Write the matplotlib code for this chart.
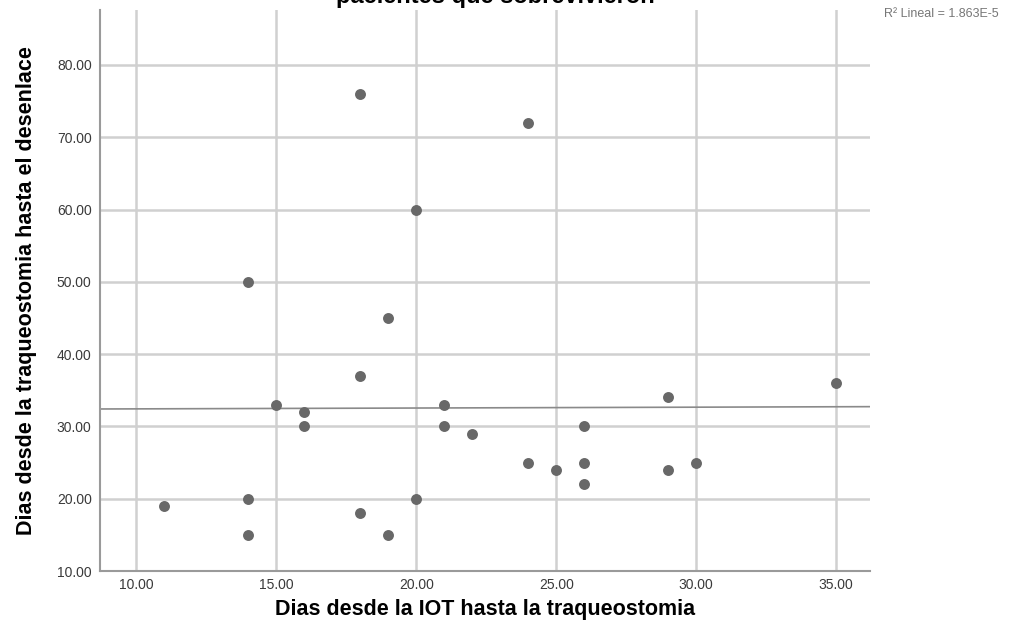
import matplotlib
matplotlib.use('Agg')
import matplotlib.pyplot as plt
import numpy as np

# data
iot_days = [11, 14, 14, 14, 15, 16, 16, 18, 18, 18, 19, 19, 20, 20, 21, 21, 22,
            24, 24, 25, 26, 26, 26, 29, 29, 30, 35]
outcome_days = [19, 50, 20, 15, 33, 32, 30, 76, 37, 18, 45, 15, 60, 20, 33, 30, 29,
                72, 25, 24, 30, 25, 22, 34, 24, 25, 36]
x_ticks = [10, 15, 20, 25, 30, 35]
y_ticks = [10, 20, 30, 40, 50, 60, 70, 80]

plt.rcParams['font.family'] = ['Liberation Sans', 'DejaVu Sans']

fig = plt.figure(figsize=(10.17, 6.39), dpi=100)
ax = fig.add_axes([0.0983, 0.1064, 0.757, 0.878])

ax.set_xlim(8.7, 36.2)
ax.set_ylim(10, 87.6)
ax.set_xticks(x_ticks)
ax.set_yticks(y_ticks)
ax.set_xticklabels(['%.2f' % v for v in x_ticks], fontsize=10, color='#3a3a3a')
ax.set_yticklabels(['%.2f' % v for v in y_ticks], fontsize=10, color='#3a3a3a')
ax.tick_params(axis='y', length=0, pad=6)
ax.tick_params(axis='x', length=0, pad=5)
ax.grid(True, color='#d0d0d0', linewidth=1.8)
ax.set_axisbelow(True)

for s in ['top', 'right']:
    ax.spines[s].set_visible(False)
for s in ['left', 'bottom']:
    ax.spines[s].set_color('#9a9a9a')
    ax.spines[s].set_linewidth(1.5)

ax.scatter(iot_days, outcome_days, s=62, color='#686868', zorder=3, linewidths=0)

# linear fit line across the whole axis
coef = np.polyfit(iot_days, outcome_days, 1)
xl = np.array(ax.get_xlim())
ax.plot(xl, np.polyval(coef, xl), color='#8a8a8a', linewidth=1.2, zorder=2)

ax.set_xlabel('Dias desde la IOT hasta la traqueostomia', fontsize=15.5,
              fontweight='bold', labelpad=5)
ax.set_ylabel('Dias desde la traqueostomia hasta el desenlace', fontsize=15.5,
              fontweight='bold', labelpad=14)

fig.text(0.487, 1 - 8 / 639, 'pacientes que sobrevivieron', ha='center',
         va='bottom', fontsize=17, fontweight='bold')
fig.text(0.926, 1 - 14 / 639, 'R² Lineal = 1.863E-5', ha='center', va='center',
         fontsize=9, color='#777777')

fig.savefig('out.png', dpi=100)
